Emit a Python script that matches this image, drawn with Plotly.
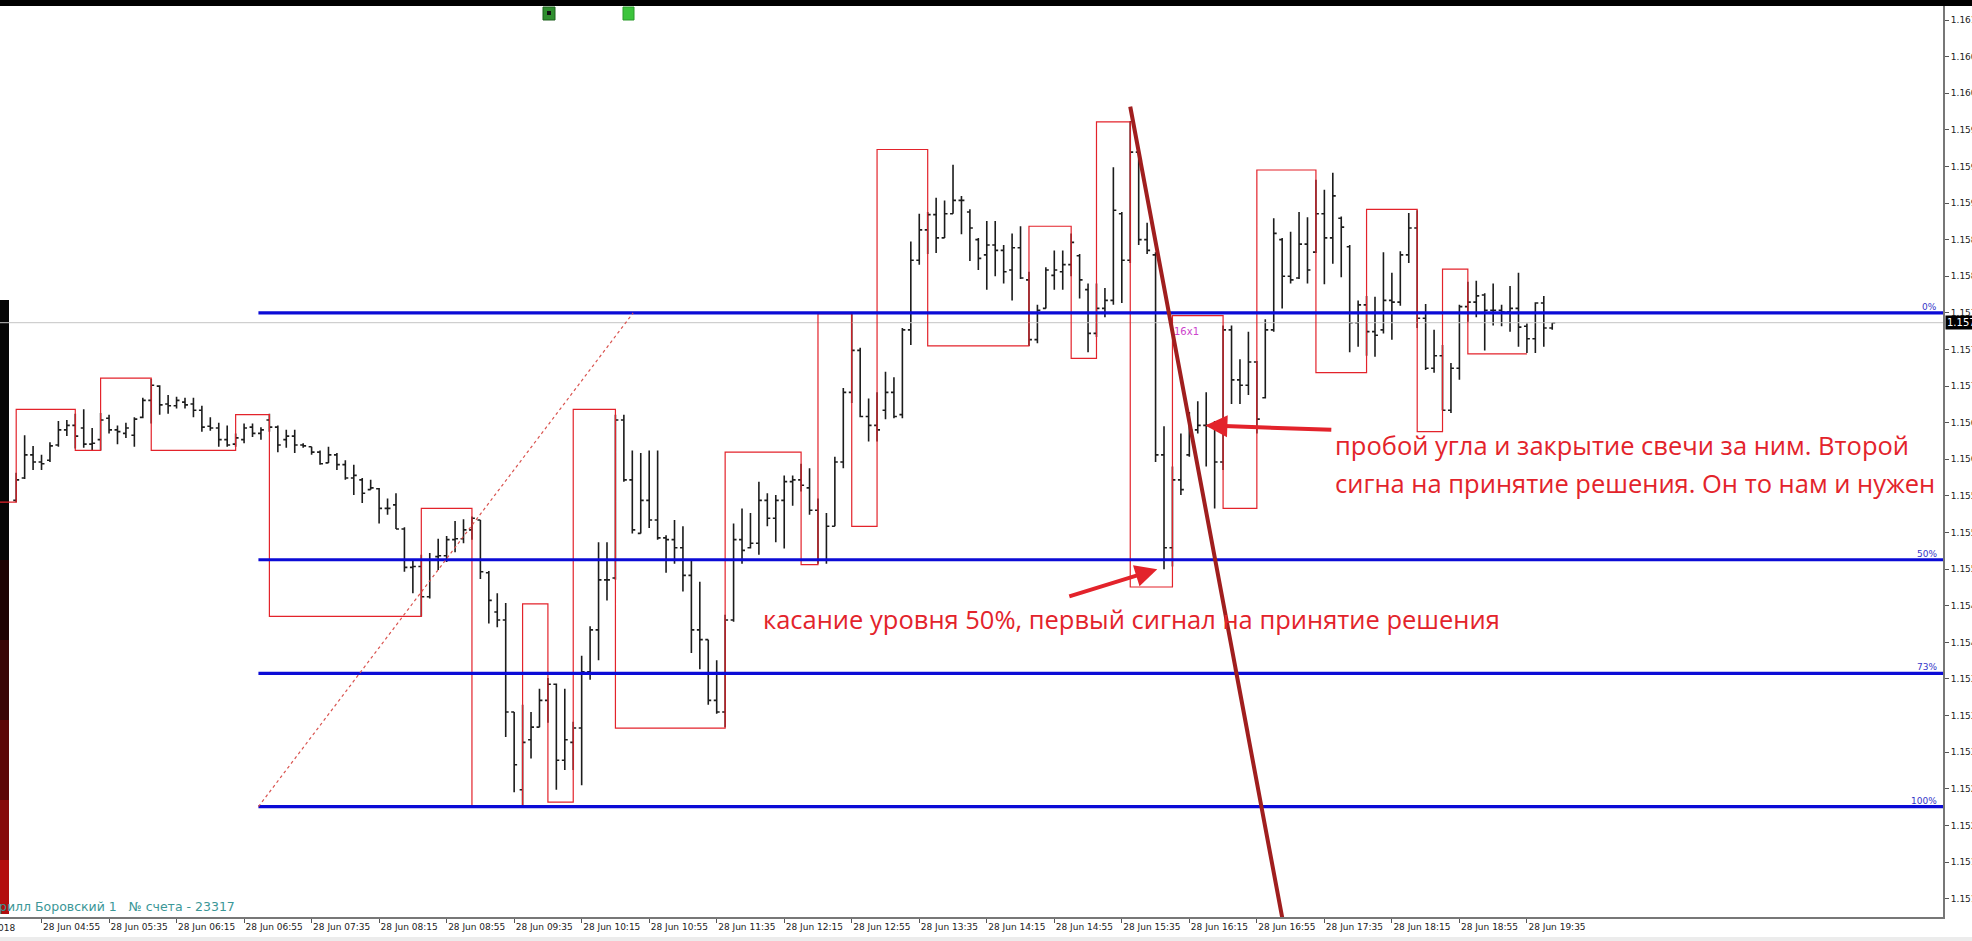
import plotly.graph_objects as go

# ---------------- data (EURUSD M5, 28 Jun 2018, bar 0 = 04:40) ----------------
O = [1.15584,1.15609,1.15635,1.15627,1.15629,1.15646,1.15663,1.15668,1.15665,1.15647,
     1.15652,1.15676,1.15663,1.15659,1.15657,1.15677,1.15696,1.15712,1.15692,1.15690,
     1.15694,1.15692,1.15685,1.15667,1.15665,1.15652,1.15647,1.15652,1.15666,1.15659,
     1.15674,1.15666,1.15652,1.15656,1.15646,1.15644,1.15638,1.15626,1.15635,1.15624,
     1.15609,1.15607,1.15596,1.15597,1.15575,1.15579,1.15552,1.15509,1.15510,1.15476,
     1.15521,1.15522,1.15540,1.15541,1.15551,1.15562,1.15503,1.15459,1.15450,1.15347,
     1.15260,1.15316,1.15330,1.15360,1.15378,1.15293,1.15313,1.15329,1.15392,1.15439,
     1.15495,1.15497,1.15674,1.15607,1.15547,1.15584,1.15562,1.15542,1.15540,1.15531,
     1.15500,1.15439,1.15428,1.15360,1.15347,1.15450,1.15540,1.15531,1.15536,1.15584,
     1.15564,1.15584,1.15605,1.15607,1.15598,1.15573,1.15517,1.15555,1.15627,1.15705,
     1.15752,1.15678,1.15668,1.15685,1.15705,1.15680,1.15775,1.15853,1.15887,1.15904,
     1.15878,1.15905,1.15920,1.15907,1.15876,1.15859,1.15870,1.15864,1.15842,1.15867,
     1.15831,1.15764,1.15799,1.15836,1.15840,1.15848,1.15858,1.15820,1.15771,1.15799,
     1.15808,1.15905,1.15853,1.15974,1.15876,1.15859,1.15635,1.15531,1.15607,1.15635,
     1.15663,1.15668,1.15668,1.15627,1.15775,1.15719,1.15713,1.15739,1.15699,1.15775,
     1.15876,1.15835,1.15833,1.15871,1.15862,1.15905,1.15878,1.15900,1.15868,1.15783,
     1.15803,1.15773,1.15775,1.15808,1.15806,1.15859,1.15889,1.15788,1.15732,1.15746,
     1.15685,1.15732,1.15801,1.15806,1.15814,1.15797,1.15797,1.15795,1.15799,1.15779,
     1.15765,1.15805,1.15777]
H = [1.15615,1.15657,1.15645,1.15635,1.15649,1.15673,1.15674,1.15681,1.15686,1.15665,
     1.15682,1.15680,1.15668,1.15671,1.15677,1.15699,1.15720,1.15713,1.15702,1.15700,
     1.15699,1.15699,1.15690,1.15677,1.15671,1.15668,1.15659,1.15670,1.15670,1.15666,
     1.15681,1.15668,1.15663,1.15663,1.15648,1.15644,1.15640,1.15644,1.15637,1.15629,
     1.15624,1.15609,1.15607,1.15598,1.15586,1.15592,1.15554,1.15518,1.15523,1.15525,
     1.15541,1.15544,1.15561,1.15563,1.15566,1.15562,1.15505,1.15480,1.15469,1.15347,
     1.15355,1.15347,1.15373,1.15385,1.15379,1.15373,1.15336,1.15410,1.15443,1.15537,
     1.15537,1.15680,1.15680,1.15640,1.15637,1.15640,1.15640,1.15545,1.15562,1.15555,
     1.15517,1.15493,1.15428,1.15405,1.15456,1.15558,1.15575,1.15570,1.15605,1.15592,
     1.15590,1.15612,1.15612,1.15625,1.15620,1.15586,1.15570,1.15633,1.15710,1.15795,
     1.15755,1.15698,1.15705,1.15728,1.15722,1.15777,1.15874,1.15905,1.15907,1.15923,
     1.15920,1.15960,1.15925,1.15910,1.15878,1.15897,1.15897,1.15870,1.15883,1.15891,
     1.15840,1.15803,1.15845,1.15864,1.15864,1.15883,1.15860,1.15827,1.15827,1.15822,
     1.15957,1.15907,1.16009,1.15975,1.15895,1.15862,1.15667,1.15622,1.15659,1.15683,
     1.15695,1.15705,1.15673,1.15780,1.15780,1.15742,1.15773,1.15740,1.15787,1.15900,
     1.15878,1.15885,1.15907,1.15901,1.15943,1.15932,1.15951,1.15902,1.15870,1.15808,
     1.15813,1.15812,1.15862,1.15839,1.15863,1.15906,1.15909,1.15804,1.15775,1.15758,
     1.15738,1.15803,1.15829,1.15830,1.15816,1.15827,1.15803,1.15824,1.15839,1.15782,
     1.15806,1.15813,1.15783]
L = [1.15582,1.15608,1.15618,1.15618,1.15627,1.15644,1.15656,1.15642,1.15643,1.15640,
     1.15640,1.15659,1.15647,1.15654,1.15644,1.15676,1.15670,1.15680,1.15681,1.15687,
     1.15687,1.15677,1.15661,1.15662,1.15644,1.15644,1.15644,1.15648,1.15655,1.15652,
     1.15661,1.15638,1.15643,1.15637,1.15643,1.15635,1.15624,1.15626,1.15618,1.15607,
     1.15590,1.15581,1.15596,1.15558,1.15568,1.15552,1.15504,1.15480,1.15454,1.15474,
     1.15506,1.15515,1.15526,1.15536,1.15540,1.15496,1.15446,1.15442,1.15319,1.15257,
     1.15242,1.15295,1.15330,1.15335,1.15260,1.15282,1.15282,1.15265,1.15383,1.15405,
     1.15472,1.15495,1.15605,1.15547,1.15547,1.15553,1.15540,1.15503,1.15513,1.15482,
     1.15413,1.15395,1.15355,1.15345,1.15330,1.15448,1.15513,1.15530,1.15523,1.15555,
     1.15537,1.15530,1.15578,1.15594,1.15568,1.15513,1.15513,1.15555,1.15620,1.15693,
     1.15677,1.15650,1.15650,1.15675,1.15676,1.15676,1.15758,1.15848,1.15860,1.15861,
     1.15878,1.15905,1.15882,1.15852,1.15842,1.15820,1.15835,1.15827,1.15808,1.15832,
     1.15757,1.15760,1.15799,1.15820,1.15820,1.15835,1.15810,1.15750,1.15767,1.15789,
     1.15803,1.15805,1.15850,1.15870,1.15860,1.15627,1.15507,1.15510,1.15590,1.15633,
     1.15659,1.15622,1.15575,1.15618,1.15692,1.15692,1.15702,1.15659,1.15698,1.15773,
     1.15799,1.15827,1.15832,1.15827,1.15861,1.15826,1.15849,1.15834,1.15750,1.15756,
     1.15746,1.15745,1.15771,1.15764,1.15802,1.15850,1.15777,1.15730,1.15727,1.15685,
     1.15682,1.15719,1.15784,1.15789,1.15752,1.15780,1.15779,1.15773,1.15756,1.15749,
     1.15749,1.15756,1.15775]
C = [1.15607,1.15635,1.15627,1.15625,1.15645,1.15663,1.15668,1.15656,1.15647,1.15648,
     1.15674,1.15663,1.15661,1.15665,1.15675,1.15696,1.15713,1.15691,1.15690,1.15696,
     1.15691,1.15685,1.15666,1.15665,1.15652,1.15646,1.15654,1.15665,1.15659,1.15663,
     1.15666,1.15646,1.15656,1.15646,1.15645,1.15638,1.15625,1.15635,1.15624,1.15609,
     1.15612,1.15592,1.15598,1.15575,1.15575,1.15552,1.15509,1.15510,1.15476,1.15517,
     1.15522,1.15540,1.15541,1.15551,1.15564,1.15504,1.15472,1.15450,1.15347,1.15288,
     1.15313,1.15330,1.15360,1.15378,1.15293,1.15316,1.15329,1.15392,1.15439,1.15495,
     1.15495,1.15674,1.15607,1.15551,1.15584,1.15562,1.15542,1.15540,1.15531,1.15500,
     1.15439,1.15428,1.15360,1.15347,1.15450,1.15540,1.15528,1.15536,1.15584,1.15564,
     1.15584,1.15605,1.15607,1.15601,1.15573,1.15517,1.15555,1.15627,1.15705,1.15752,
     1.15678,1.15668,1.15663,1.15705,1.15678,1.15775,1.15853,1.15887,1.15904,1.15878,
     1.15905,1.15920,1.15920,1.15889,1.15855,1.15870,1.15864,1.15840,1.15867,1.15833,
     1.15764,1.15797,1.15842,1.15842,1.15848,1.15873,1.15831,1.15771,1.15799,1.15808,
     1.15909,1.15853,1.15974,1.15876,1.15864,1.15635,1.15531,1.15607,1.15596,1.15663,
     1.15668,1.15668,1.15627,1.15775,1.15719,1.15713,1.15739,1.15675,1.15775,1.15883,
     1.15835,1.15831,1.15871,1.15842,1.15905,1.15878,1.15925,1.15890,1.15783,1.15803,
     1.15773,1.15769,1.15808,1.15806,1.15859,1.15889,1.15788,1.15732,1.15746,1.15685,
     1.15732,1.15801,1.15806,1.15813,1.15797,1.15797,1.15795,1.15799,1.15778,1.15765,
     1.15805,1.15777,1.15783]

# red step indicator (bar index where a new level starts, level price)
step_x = [-2, 0, 7, 10, 16, 26, 30, 48, 54, 60, 63, 66, 71, 84, 93, 95, 99, 102, 108,
          120, 125, 128, 132, 137, 143, 147, 154, 160, 166, 169, 172, 179]
step_y = [1.15582, 1.15686, 1.15640, 1.15721, 1.15640, 1.15680, 1.15454, 1.15575,
          1.15241, 1.15468, 1.15246, 1.15686, 1.15329, 1.15638, 1.15512, 1.15793,
          1.15555, 1.15977, 1.15757, 1.15891, 1.15743, 1.16008, 1.15487, 1.15791,
          1.15575, 1.15954, 1.15727, 1.15910, 1.15661, 1.15843, 1.15748, 1.15748]

# Fibonacci retracement
fib_pct = [0, 50, 73, 100]
fib_high = 1.15794
fib_low = 1.15241
fib_x = [28.7, 73.1]          # anchor bars (low -> high)

# down trend line
trend_x = [132.0, 150.0]
trend_y = [1.16025, 1.15117]

bid = 1.15783

x_tick_bars = [3, 11, 19, 27, 35, 43, 51, 59, 67, 75, 83, 91, 99, 107, 115, 123, 131,
               139, 147, 155, 163, 171, 179]
x_tick_text = ["28 Jun 04:55", "28 Jun 05:35", "28 Jun 06:15", "28 Jun 06:55",
               "28 Jun 07:35", "28 Jun 08:15", "28 Jun 08:55", "28 Jun 09:35",
               "28 Jun 10:15", "28 Jun 10:55", "28 Jun 11:35", "28 Jun 12:15",
               "28 Jun 12:55", "28 Jun 13:35", "28 Jun 14:15", "28 Jun 14:55",
               "28 Jun 15:35", "28 Jun 16:15", "28 Jun 16:55", "28 Jun 17:35",
               "28 Jun 18:15", "28 Jun 18:55", "28 Jun 19:35"]
y_tick_vals = [1.16122, 1.16081, 1.16040, 1.15999, 1.15958, 1.15917, 1.15876, 1.15835,
               1.15794, 1.15753, 1.15712, 1.15671, 1.15630, 1.15589, 1.15548, 1.15507,
               1.15466, 1.15425, 1.15384, 1.15343, 1.15302, 1.15261, 1.15220, 1.15179,
               1.15138]

X_RANGE = [-1.92, 228.3]
Y_RANGE = [1.151174, 1.161377]
RED = "#e3232b"
BLUE = "#0b0bd6"

bars = list(range(len(O)))

fig = go.Figure()

# bid line
fig.add_trace(go.Scatter(x=X_RANGE, y=[bid, bid], mode="lines",
                         line=dict(color="#c4c4c4", width=1), hoverinfo="skip"))

fig.add_trace(go.Ohlc(x=bars, open=O, high=H, low=L, close=C,
                      increasing=dict(line=dict(color="#1c1c1c", width=1.6)),
                      decreasing=dict(line=dict(color="#1c1c1c", width=1.6)),
                      tickwidth=0.35, hoverinfo="skip"))

fig.add_trace(go.Scatter(x=step_x, y=step_y, mode="lines", line_shape="hv",
                         line=dict(color=RED, width=1.2), hoverinfo="skip"))

for p in fib_pct:
    lvl = fib_high - (fib_high - fib_low) * p / 100
    fig.add_trace(go.Scatter(x=[fib_x[0], X_RANGE[1]], y=[lvl, lvl], mode="lines",
                             line=dict(color=BLUE, width=3.2), hoverinfo="skip"))
    fig.add_annotation(x=1939 / 1943, xref="paper", y=lvl, yref="y", text=f"{p}%",
                       showarrow=False, xanchor="right", yanchor="bottom", yshift=-1,
                       font=dict(family="DejaVu Sans", size=9, color="#3535c8"))

fig.add_trace(go.Scatter(x=fib_x, y=[fib_low, fib_high], mode="lines",
                         line=dict(color="#d9534f", width=1.2, dash="3px,3px"),
                         hoverinfo="skip"))

fig.add_trace(go.Scatter(x=trend_x, y=trend_y, mode="lines",
                         line=dict(color="#a01e1e", width=4), hoverinfo="skip"))

# arrows
fig.add_annotation(x=135.2, y=1.15507, ax=124.6, ay=1.15476, xref="x", yref="y",
                   axref="x", ayref="y", text="", showarrow=True, arrowhead=2,
                   arrowsize=1.1, arrowwidth=4, arrowcolor=RED)
fig.add_annotation(x=140.9, y=1.15668, ax=156.0, ay=1.15663, xref="x", yref="y",
                   axref="x", ayref="y", text="", showarrow=True, arrowhead=2,
                   arrowsize=1.1, arrowwidth=4, arrowcolor=RED)

TXT = dict(family="Open Sans", size=25.5, color=RED)
fig.add_annotation(x=88.3, y=1.15451, xref="x", yref="y", xanchor="left",
                   yanchor="middle", showarrow=False, font=TXT,
                   text="касание уровня 50%, первый сигнал на принятие решения")
fig.add_annotation(x=156.0, y=1.15646, xref="x", yref="y", xanchor="left",
                   yanchor="middle", showarrow=False, font=TXT,
                   text="пробой угла и закрытие свечи за ним. Второй")
fig.add_annotation(x=156.0, y=1.15604, xref="x", yref="y", xanchor="left",
                   yanchor="middle", showarrow=False, font=TXT,
                   text="сигна на принятие решения. Он то нам и нужен")
fig.add_annotation(x=136.9, y=1.15773, xref="x", yref="y", xanchor="left",
                   yanchor="middle", showarrow=False, text="16x1",
                   font=dict(family="DejaVu Sans", size=10, color="#cc44cc"))

# bid price box on the price scale
fig.add_annotation(x=1945 / 1943, xref="paper", y=bid, yref="y", xanchor="left",
                   yanchor="middle", showarrow=False, text="1.15783", bgcolor="#000000",
                   borderpad=1, font=dict(family="DejaVu Sans", size=10, color="#ffffff"))

def band(y_top, y_bot, color):
    return dict(type="rect", xref="paper", yref="paper", x0=0, x1=9 / 1943,
                y0=(917 - y_bot) / 911, y1=(917 - y_top) / 911,
                fillcolor=color, line=dict(width=0), layer="below")

shapes = [
    # black strip at the top of the window
    dict(type="rect", xref="paper", yref="paper", x0=0, x1=1.02, y0=1, y1=1 + 7 / 911,
         fillcolor="#000000", line=dict(width=0), layer="above"),
    # left dark strip (black fading into red)
    band(300, 560, "#050505"),
    band(560, 640, "#1e0303"),
    band(640, 720, "#3a0505"),
    band(720, 800, "#5c0707"),
    band(800, 860, "#860a0a"),
    band(860, 914, "#b30e0e"),
    # green buttons
    dict(type="rect", xref="paper", yref="paper", x0=543 / 1943, x1=555 / 1943,
         y0=(917 - 20) / 911, y1=(917 - 7) / 911, fillcolor="#2f8f2f",
         line=dict(color="#1d5e1d", width=1), layer="above"),
    dict(type="rect", xref="paper", yref="paper", x0=547 / 1943, x1=551 / 1943,
         y0=(917 - 15) / 911, y1=(917 - 11) / 911, fillcolor="#111111",
         line=dict(width=0), layer="above"),
    dict(type="rect", xref="paper", yref="paper", x0=623 / 1943, x1=634 / 1943,
         y0=(917 - 20) / 911, y1=(917 - 7) / 911, fillcolor="#3cc43c",
         line=dict(color="#2a9a2a", width=1), layer="above"),
    # light strip at the bottom
    dict(type="rect", xref="paper", yref="paper", x0=-0.01, x1=1.02, y0=-24 / 911,
         y1=-20 / 911, fillcolor="#ececec", line=dict(width=0), layer="above"),
]

# account text bottom-left
fig.add_annotation(x=0, xref="paper", y=11 / 911, yref="paper", xanchor="left",
                   yanchor="middle", showarrow=False, xshift=-3,
                   text="рилл Боровский 1   № счета - 23317",
                   font=dict(family="DejaVu Sans", size=12.5, color="#3b9797"))
# first (cut) date label
fig.add_annotation(x=17 / 1943, xref="paper", y=-11 / 911, yref="paper", xanchor="right",
                   yanchor="middle", showarrow=False, text="28 Jun 2018",
                   font=dict(family="DejaVu Sans", size=9, color="#222222"))

fig.update_layout(
    width=1972, height=941,
    margin=dict(l=0, r=29, t=6, b=24),
    paper_bgcolor="#ffffff", plot_bgcolor="#ffffff",
    showlegend=False,
    shapes=shapes,
    xaxis=dict(range=X_RANGE, rangeslider=dict(visible=False), showgrid=False,
               zeroline=False, showline=True, linecolor="#777777", linewidth=2,
               ticks="outside", ticklen=4, tickcolor="#555555",
               tickvals=x_tick_bars, ticktext=x_tick_text,
               ticklabelposition="outside right",
               tickfont=dict(family="DejaVu Sans", size=9, color="#222222"),
               automargin=False, fixedrange=True),
    yaxis=dict(range=Y_RANGE, side="right", showgrid=False, zeroline=False,
               showline=True, linecolor="#777777", linewidth=2,
               ticks="outside", ticklen=4, tickcolor="#555555",
               tickvals=y_tick_vals, ticktext=[f"{v:.5f}" for v in y_tick_vals],
               tickfont=dict(family="DejaVu Sans", size=9, color="#222222"),
               automargin=False, fixedrange=True),
)

fig.write_html("out.html", config={"displayModeBar": False},
               post_script="document.body.style.margin='0';document.body.style.overflow='hidden';")
